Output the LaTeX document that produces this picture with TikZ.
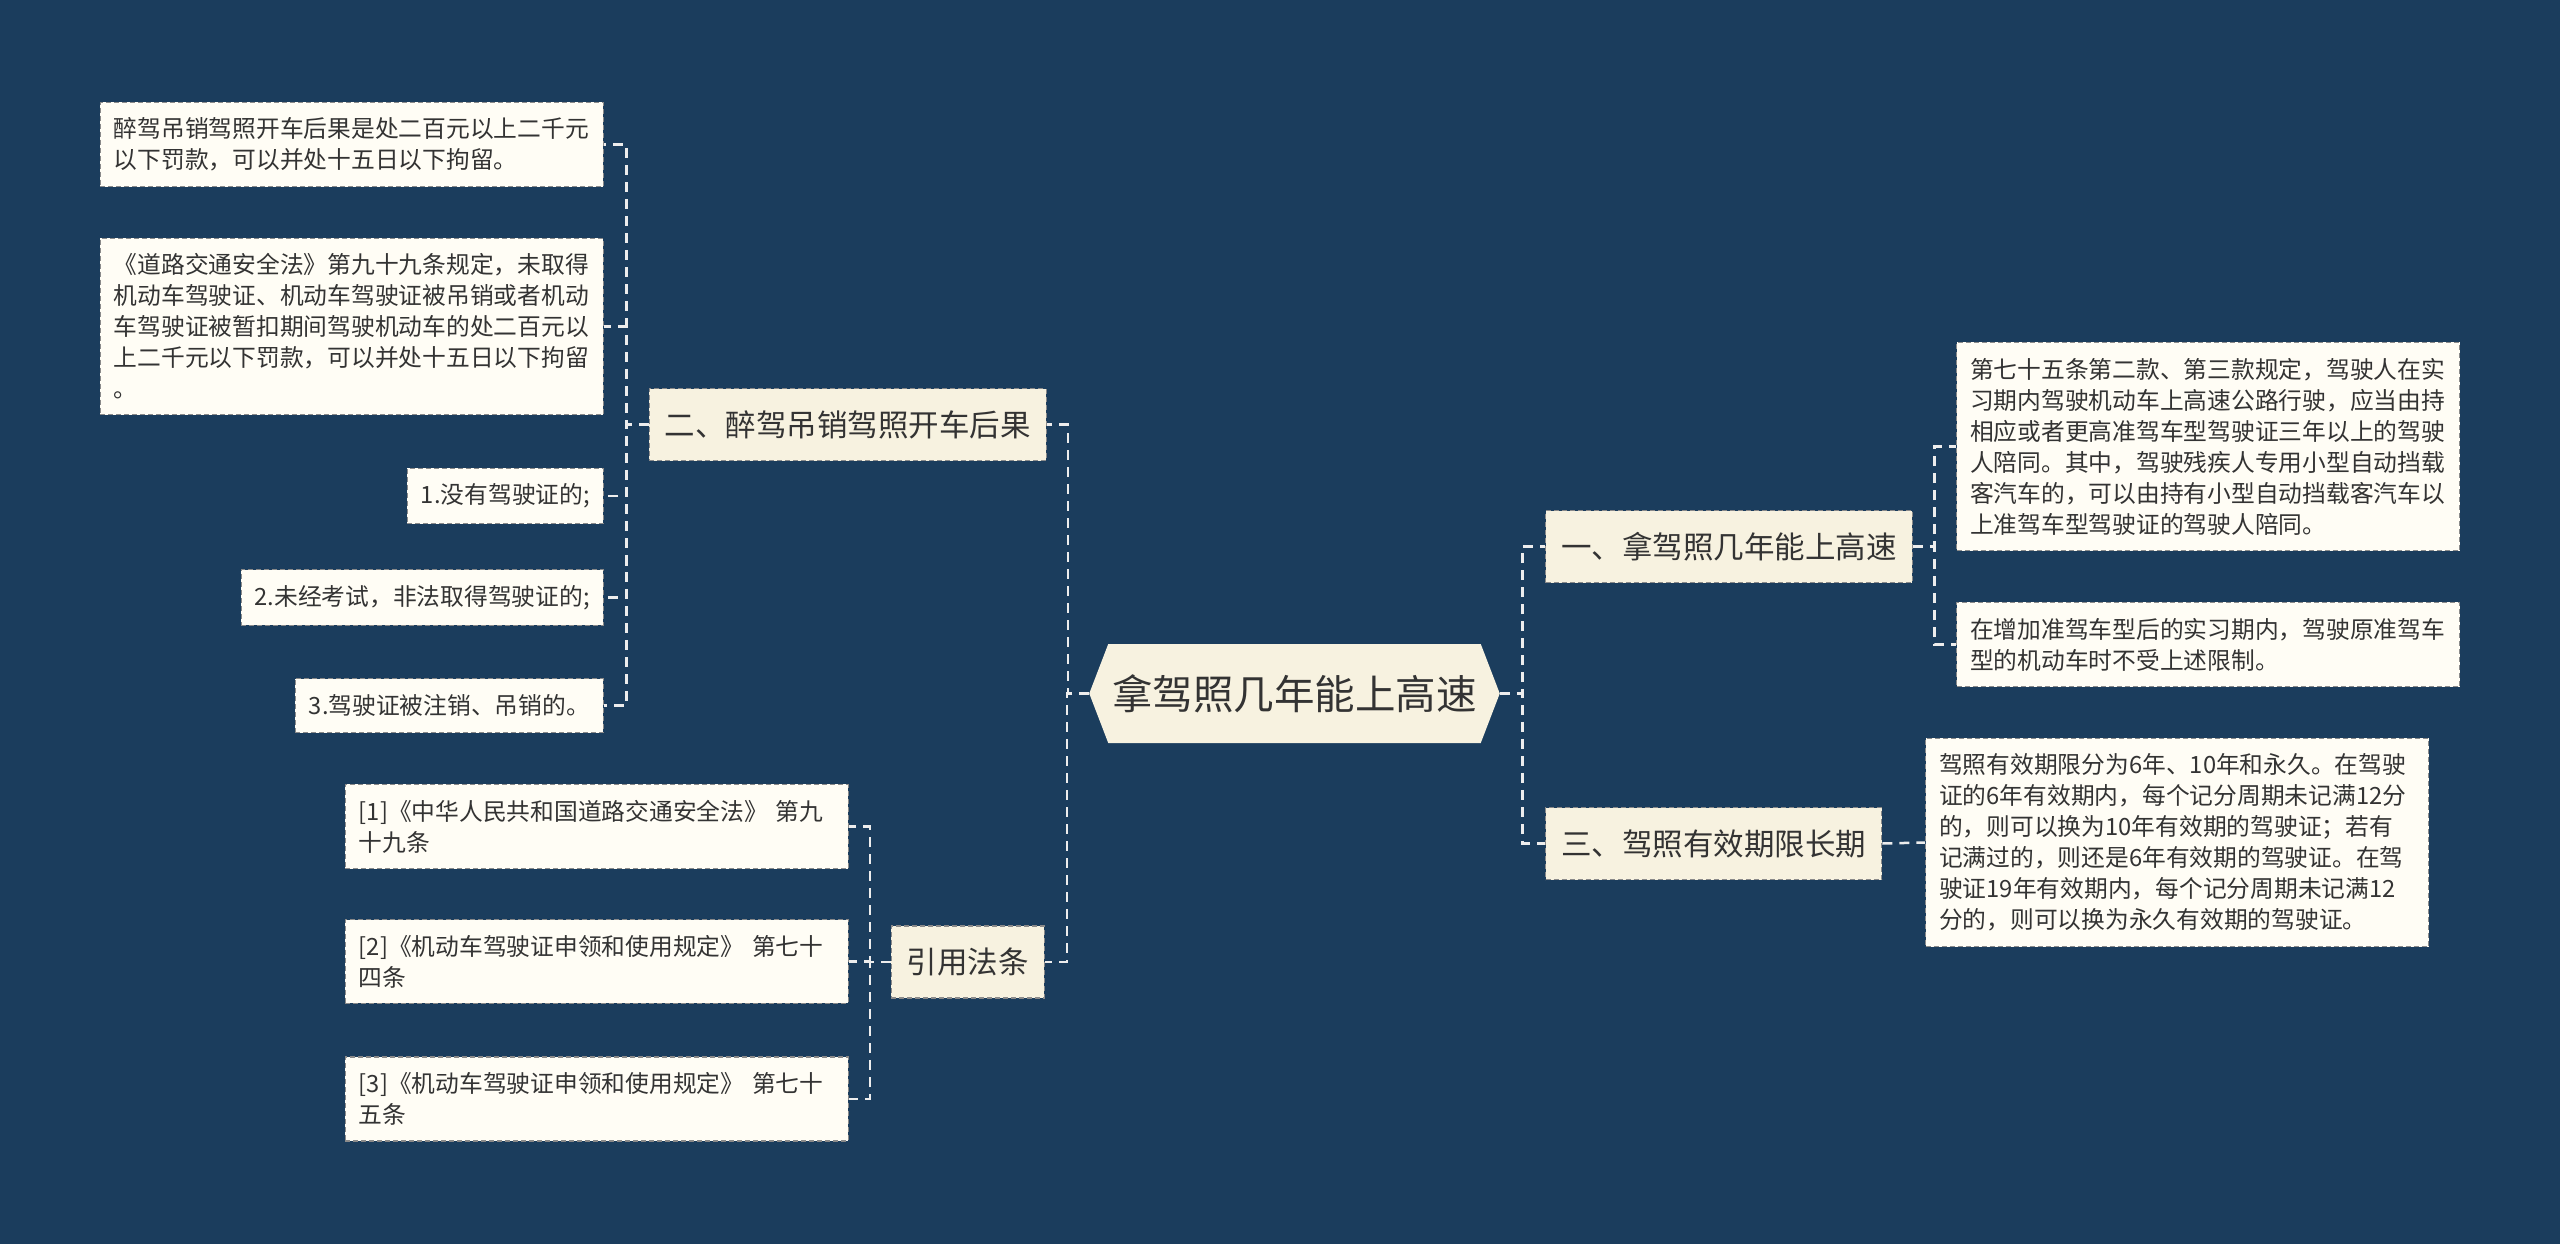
\documentclass[tikz,border=0pt]{standalone}
\usepackage{fontspec}
\setmainfont{Noto Sans CJK SC}
\usepackage{tikz}
\usetikzlibrary{shapes.symbols,calc}
\definecolor{bgblue}{HTML}{1B3D5D}
\definecolor{cream}{HTML}{F7F2E0}
\definecolor{paper}{HTML}{FFFDF5}
\definecolor{ink}{HTML}{333333}
\definecolor{rim}{HTML}{8A8A8A}
\definecolor{wire}{HTML}{EDEDED}
\tikzset{
  topic/.style={signal, signal to=west and east, signal pointer angle=138, fill=cream, text=ink,
    inner xsep=4pt, inner ysep=0pt, minimum height=99pt, font=\fontsize{40.5}{48}\selectfont},
  branch/.style={draw=rim, dash pattern=on 5pt off 3pt, line width=1.3pt, fill=cream, text=ink,
    inner xsep=15.5pt, minimum height=72pt, font=\fontsize{30.5}{36}\selectfont},
  leaf/.style={draw=rim, dash pattern=on 5pt off 3pt, line width=1.3pt, fill=paper, text=ink,
    inner xsep=13.5pt, inner ysep=15.5pt, minimum height=54pt, align=left, font=\fontsize{23.75}{31}\selectfont},
  leafw/.style={leaf, text width=476pt},
  link/.style={wire, line width=2.5pt, dash pattern=on 10pt off 7pt},
}
\begin{document}
\begin{tikzpicture}[x=1pt,y=-1pt]
    \fill[bgblue] (0,0) rectangle (2560,1244);
    \useasboundingbox (0,0) rectangle (2560,1244);
    \node[topic] (root) at (1294.5,693.5) {拿驾照几年能上高速};
    \node[branch, anchor=east] (drunk) at (1047,424.5) {二、醉驾吊销驾照开车后果};
    \node[branch, anchor=east] (cite) at (1045,962) {引用法条};
    \node[branch, anchor=west] (reach) at (1545,546.5) {一、拿驾照几年能上高速};
    \node[branch, anchor=west] (valid) at (1545,843.5) {三、驾照有效期限长期};
    \node[leafw, anchor=east] (drunkA) at (604,144.5) {醉驾吊销驾照开车后果是处二百元以上二千元\\以下罚款，可以并处十五日以下拘留。};
    \node[leafw, anchor=east] (drunkB) at (604,326.5) {《道路交通安全法》第九十九条规定，未取得\\机动车驾驶证、机动车驾驶证被吊销或者机动\\车驾驶证被暂扣期间驾驶机动车的处二百元以\\上二千元以下罚款，可以并处十五日以下拘留\\。};
    \node[leaf, anchor=east] (noLic) at (604,496) {1.没有驾驶证的;};
    \node[leaf, anchor=east] (noExam) at (604,597.5) {2.未经考试，非法取得驾驶证的;};
    \node[leaf, anchor=east] (revoked) at (604,705.5) {3.驾驶证被注销、吊销的。};
    \node[leafw, anchor=east] (ref1) at (849,826.5) {[1]《中华人民共和国道路交通安全法》 第九\\十九条};
    \node[leafw, anchor=east] (ref2) at (849,961.5) {[2]《机动车驾驶证申领和使用规定》 第七十\\四条};
    \node[leafw, anchor=east] (ref3) at (849,1099) {[3]《机动车驾驶证申领和使用规定》 第七十\\五条};
    \node[leafw, anchor=west] (rule75) at (1956,446.5) {第七十五条第二款、第三款规定，驾驶人在实\\习期内驾驶机动车上高速公路行驶，应当由持\\相应或者更高准驾车型驾驶证三年以上的驾驶\\人陪同。其中，驾驶残疾人专用小型自动挡载\\客汽车的，可以由持有小型自动挡载客汽车以\\上准驾车型驾驶证的驾驶人陪同。};
    \node[leafw, anchor=west] (newType) at (1956,644.5) {在增加准驾车型后的实习期内，驾驶原准驾车\\型的机动车时不受上述限制。};
    \node[leafw, anchor=west] (term) at (1925,842.5) {驾照有效期限分为6年、10年和永久。在驾驶\\证的6年有效期内，每个记分周期未记满12分\\的，则可以换为10年有效期的驾驶证；若有\\记满过的，则还是6年有效期的驾驶证。在驾\\驶证19年有效期内，每个记分周期未记满12\\分的，则可以换为永久有效期的驾驶证。};
    \foreach \kid in {drunk,cite}
        \draw[link] (root.west) -| ($(root.west)!.5!(\kid.east)$) |- (\kid.east);
    \foreach \kid in {reach,valid}
        \draw[link] (root.east) -| ($(root.east)!.5!(\kid.west)$) |- (\kid.west);
    \foreach \kid in {drunkA,drunkB,noLic,noExam,revoked}
        \draw[link] (drunk.west) -| ($(drunk.west)!.5!(\kid.east)$) |- (\kid.east);
    \foreach \kid in {ref1,ref2,ref3}
        \draw[link] (cite.west) -| ($(cite.west)!.5!(\kid.east)$) |- (\kid.east);
    \foreach \kid in {rule75,newType}
        \draw[link] (reach.east) -| ($(reach.east)!.5!(\kid.west)$) |- (\kid.west);
    \draw[link] (valid.east) -- (term.west);
\end{tikzpicture}
\end{document}
